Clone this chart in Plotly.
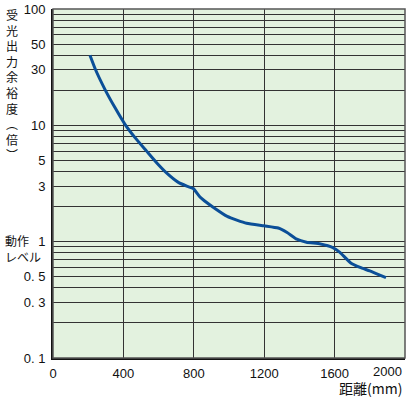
import plotly.graph_objects as go

# Data
distance_mm = [210, 240, 295, 352, 409, 466, 532, 590, 645, 710, 760, 797, 835, 860, 910,
               990, 1100, 1200, 1280, 1330, 1385, 1440, 1520, 1590, 1630, 1690, 1745, 1800, 1892]
margin_ratio = [40, 30.5, 20.4, 14.2, 10.2, 7.84, 6.0, 4.75, 3.9, 3.25, 3.0, 2.86, 2.42, 2.25, 1.98,
                1.65, 1.44, 1.37, 1.31, 1.2, 1.05, 0.99, 0.955, 0.89, 0.81, 0.66, 0.60, 0.56, 0.49]

x_ticks = [0, 400, 800, 1200, 1600, 2000]
x_tick_labels = ["0", "400", "800", "1200", "1600", "2000"]
y_labeled = {100: "100", 50: "50", 30: "30", 10: "10", 5: "5", 3: "3",
             1: "1", 0.5: "0. 5", 0.3: "0. 3", 0.1: "0. 1"}
y_grid = [round(m * 10 ** e, 6) for e in (-1, 0, 1) for m in range(1, 10)] + [100]
y_title_chars = ["受", "光", "出", "力", "余", "裕", "度", "︵", "倍", "︶"]

W, H = 410, 397
L, R, T, B = 53, 5, 9, 39
pw, ph = W - L - R, H - T - B

def px_x(p):
    return (p - L) / pw

def px_y(p):
    return (H - B - p) / ph

grid_col = "#333333"
tick_font = dict(family="Liberation Sans, Arial, sans-serif", size=13, color="#111111")
cjk = "Noto Sans CJK JP, sans-serif"

fig = go.Figure()
fig.add_trace(go.Scatter(
    x=distance_mm, y=margin_ratio, mode="lines",
    line=dict(color="#0B4F98", width=3, shape="spline", smoothing=0.5),
    hoverinfo="skip", showlegend=False))

# the last x tick label is drawn separately (shifted left so it stays inside the page)
fig.update_layout(
    template="none",
    width=W, height=H,
    margin=dict(l=L, r=R, t=T, b=B, pad=0),
    paper_bgcolor="white", plot_bgcolor="#E3F2DF",
    xaxis=dict(range=[0, 2000], tickvals=x_ticks,
               ticktext=x_tick_labels[:-1] + [""],
               showgrid=True, gridcolor=grid_col, gridwidth=1, automargin=False,
               showline=True, linecolor="#111111", linewidth=2,
               ticks="", tickfont=tick_font, zeroline=False, ticklabelstandoff=2),
    yaxis=dict(type="log", range=[-1, 2], tickvals=y_grid,
               ticktext=[y_labeled.get(v, "") for v in y_grid],
               showgrid=True, gridcolor=grid_col, gridwidth=1, automargin=False,
               showline=True, linecolor="#111111", linewidth=2,
               ticks="", tickfont=tick_font, zeroline=False, ticklabelstandoff=3),
)

fig.add_annotation(text=x_tick_labels[-1], xref="x", yref="paper", x=x_ticks[-1], y=0,
                   yshift=-4, xshift=-1, showarrow=False, xanchor="right", yanchor="top",
                   font=tick_font)

# frame top/right
fig.add_shape(type="rect", xref="paper", yref="paper", x0=0, x1=1, y0=0, y1=1,
              line=dict(color="#555555", width=1.5), layer="above")

# vertical y-axis title (stacked characters)
fig.add_annotation(text="<br>".join(y_title_chars), xref="paper", yref="paper",
                   x=px_x(12), y=px_y(4), showarrow=False, xanchor="center", yanchor="top",
                   align="center", font=dict(family=cjk, size=12, color="#111111"))

fig.add_annotation(text="動作<br>レベル", xref="paper", yref="paper", x=px_x(3), y=px_y(248),
                   showarrow=False, xanchor="left", yanchor="middle", align="left",
                   font=dict(family=cjk, size=12, color="#111111"))
fig.add_annotation(text="距離(mm)", xref="paper", yref="paper", x=px_x(404), y=px_y(388),
                   showarrow=False, xanchor="right", yanchor="middle",
                   font=dict(family=cjk, size=14, color="#111111"))

fig.write_html("out.html", config={"displayModeBar": False},
               post_script="document.body.style.margin='0px';document.body.style.overflow='hidden';")
